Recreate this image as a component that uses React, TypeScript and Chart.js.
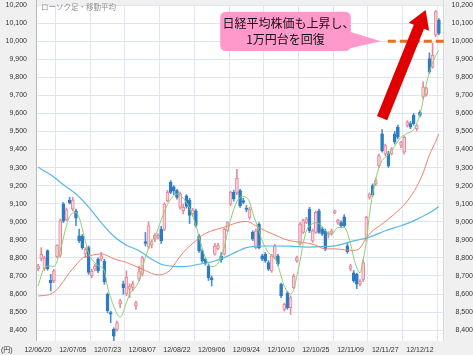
import { useEffect, useRef } from 'react';
import { Chart, registerables } from 'chart.js';

Chart.register(...registerables);

// ---- data ----
const xTickIdx = [0, 11, 22, 33, 44, 55, 66, 77, 88, 99, 110, 121];
const xTickLabels = ['12/06/20', '12/07/05', '12/07/23', '12/08/07', '12/08/22', '12/09/06', '12/09/24', '12/10/10', '12/10/25', '12/11/09', '12/11/27', '12/12/12'];
const yTicks = [8400, 8500, 8600, 8700, 8800, 8900, 9000, 9100, 9200, 9300, 9400, 9500, 9600, 9700, 9800, 9900, 10000, 10100, 10200];
const yMin = 8340;
const yMax = 10200;

const openP = [8740, 8795, 8740, 8840, 8676, 8672, 8805, 8815, 9100, 9010,
  9120, 9070, 9060, 8922, 8920, 8822, 8857, 8702, 8738, 8792,
  8795, 8783, 8598, 8497, 8405, 8404, 8545, 8657, 8600, 8627,
  8636, 8535, 8682, 8710, 8890, 8860, 8870, 8905, 8915, 8959,
  8959, 9117, 9218, 9194, 9172, 9080, 9061, 9144, 9120, 9043,
  9061, 8922, 8839, 8792, 8755, 8690, 8820, 8850, 8811, 8820,
  8950, 9098, 9163, 9160, 9172, 9117, 9075, 9024, 8941, 8857,
  8987, 8811, 8820, 8774, 8728, 8802, 8811, 8654, 8515, 8607,
  8524, 8635, 8783, 8876, 8941, 8996, 9070, 8894, 8941, 9061,
  8959, 8950, 8930, 8935, 9052, 8996, 8996, 9028, 8867, 8737,
  8718, 8709, 8654, 8681, 8904, 9135, 9200, 9209, 9311, 9487,
  9376, 9376, 9376, 9487, 9524, 9422, 9385, 9533, 9543, 9589,
  9515, 9607, 9691, 9705, 9904, 9857, 10033, 10117];

const highP = [8765, 8857, 8810, 8845, 8709, 8737, 8872, 9015, 9107, 9076,
  9135, 9135, 9070, 8959, 8930, 8857, 8866, 8737, 8765, 8801,
  8830, 8792, 8607, 8505, 8413, 8450, 8570, 8672, 8728, 8657,
  8672, 8561, 8755, 8810, 8941, 9000, 8900, 8935, 8935, 8975,
  9105, 9175, 9228, 9200, 9180, 9165, 9098, 9150, 9130, 9075,
  9070, 8930, 8850, 8800, 8765, 8700, 8880, 8880, 8830, 8965,
  9000, 9170, 9175, 9290, 9180, 9130, 9090, 9080, 8950, 8960,
  8995, 8820, 8830, 8785, 8820, 8875, 8820, 8660, 8550, 8615,
  8590, 8710, 8810, 8995, 9015, 9025, 9080, 8960, 9060, 9070,
  8970, 8960, 8945, 8960, 9065, 9015, 9005, 9040, 8880, 8765,
  8730, 8715, 8680, 8790, 9030, 9160, 9210, 9240, 9375, 9510,
  9430, 9390, 9410, 9500, 9535, 9445, 9475, 9560, 9555, 9600,
  9540, 9615, 9775, 9745, 9935, 9990, 10170, 10125];

const lowP = [8728, 8783, 8730, 8732, 8617, 8663, 8800, 8805, 8996, 9005,
  9098, 9060, 8978, 8885, 8848, 8802, 8709, 8690, 8728, 8718,
  8783, 8654, 8496, 8441, 8324, 8394, 8524, 8598, 8590, 8580,
  8617, 8515, 8672, 8700, 8866, 8850, 8855, 8890, 8905, 8880,
  8950, 9110, 9155, 9150, 9125, 9070, 9043, 9075, 8990, 9030,
  8970, 8830, 8775, 8760, 8675, 8644, 8815, 8845, 8775, 8815,
  8945, 9090, 9115, 9150, 9080, 9100, 9055, 9015, 8895, 8850,
  8850, 8785, 8775, 8730, 8720, 8795, 8755, 8580, 8505, 8515,
  8487, 8630, 8775, 8870, 8935, 8990, 8940, 8885, 8935, 8935,
  8925, 8840, 8910, 8925, 9045, 8985, 8970, 8970, 8825, 8728,
  8665, 8630, 8645, 8670, 8895, 9125, 9140, 9200, 9300, 9385,
  9365, 9300, 9370, 9430, 9460, 9410, 9375, 9525, 9515, 9535,
  9505, 9580, 9680, 9695, 9820, 9850, 10025, 10035];

const closeP = [8755, 8820, 8800, 8740, 8663, 8728, 8870, 9005, 9003, 9066,
  9104, 9120, 9020, 8895, 8857, 8848, 8720, 8725, 8755, 8728,
  8812, 8669, 8508, 8488, 8367, 8441, 8562, 8635, 8692, 8644,
  8657, 8553, 8724, 8802, 8880, 8978, 8891, 8925, 8925, 8894,
  9098, 9163, 9163, 9172, 9135, 9154, 9080, 9085, 9035, 9065,
  8980, 8839, 8783, 8770, 8690, 8680, 8867, 8868, 8790, 8959,
  8996, 9163, 9126, 9240, 9089, 9107, 9069, 9070, 8904, 8950,
  8857, 8793, 8783, 8737, 8811, 8867, 8765, 8589, 8543, 8524,
  8580, 8700, 8802, 8987, 9006, 9015, 8950, 8950, 9052, 8941,
  8932, 8848, 8938, 8950, 9061, 9010, 8978, 8978, 8835, 8756,
  8672, 8654, 8672, 8774, 9024, 9154, 9150, 9228, 9367, 9394,
  9422, 9311, 9404, 9441, 9468, 9441, 9468, 9552, 9524, 9543,
  9533, 9589, 9746, 9742, 9830, 9922, 10163, 10043];

// moving averages, sampled along the drawn lines
const maShortIdx = [0, 2, 4, 5, 7, 9, 10, 12, 13, 15, 16, 18, 19, 21, 22, 23, 25, 26, 28, 29, 31, 32, 34, 36, 37, 39, 41, 44, 46, 48, 50, 51, 53, 55, 56, 57, 59, 60, 62, 64, 65, 67, 68, 70, 71, 73, 75, 76, 77, 78, 80, 81, 82, 83, 84, 85, 87, 88, 90, 91, 93, 95, 97, 99, 100, 101, 102, 103, 104, 105, 106, 107, 109, 110, 112, 114, 115, 117, 119, 120, 121, 122, 123, 124, 125, 126, 127];
const maShortVal = [8644, 8745, 8755, 8752, 8840, 8980, 9030, 9052, 9024, 8890, 8825, 8772, 8758, 8728, 8640, 8580, 8490, 8472, 8552, 8600, 8640, 8675, 8802, 8894, 8915, 9010, 9095, 9154, 9130, 9075, 8980, 8915, 8802, 8752, 8755, 8770, 8860, 8940, 9070, 9135, 9140, 9110, 9050, 8950, 8895, 8830, 8795, 8760, 8700, 8645, 8600, 8625, 8700, 8783, 8880, 8950, 8990, 8996, 8975, 8950, 8931, 8968, 8968, 8880, 8800, 8745, 8718, 8790, 8890, 9040, 9150, 9240, 9340, 9355, 9394, 9445, 9468, 9490, 9510, 9545, 9595, 9672, 9760, 9830, 9880, 9920, 9950];

const maMidIdx = [0, 4, 6, 8, 10, 12, 14, 16, 18, 20, 22, 24, 26, 28, 30, 32, 34, 36, 38, 40, 42, 44, 46, 48, 50, 52, 55, 59, 63, 66, 69, 72, 75, 78, 81, 85, 88, 91, 94, 97, 100, 102, 104, 106, 108, 111, 114, 117, 120, 122, 124, 126, 127];
const maMidVal = [8589, 8600, 8625, 8670, 8720, 8760, 8798, 8811, 8818, 8822, 8812, 8795, 8785, 8775, 8760, 8745, 8730, 8714, 8706, 8712, 8735, 8785, 8830, 8865, 8895, 8925, 8950, 8970, 8995, 9002, 8978, 8950, 8928, 8904, 8891, 8883, 8870, 8850, 8850, 8845, 8842, 8855, 8910, 8950, 8975, 9015, 9060, 9115, 9195, 9270, 9370, 9445, 9487];

const maLongIdx = [0, 4, 8, 12, 16, 20, 24, 28, 32, 36, 39, 42, 46, 51, 56, 60, 63, 66, 70, 75, 80, 85, 90, 94, 100, 105, 110, 115, 119, 123, 127];
const maLongVal = [9302, 9260, 9205, 9154, 9082, 8995, 8920, 8870, 8840, 8792, 8765, 8755, 8752, 8765, 8783, 8810, 8835, 8857, 8866, 8866, 8865, 8860, 8862, 8867, 8894, 8915, 8950, 8978, 9005, 9040, 9083];

const titleText = 'ローソク足・移動平均';
const unitText = '(円)';
const calloutLines = ['日経平均株価も上昇し、', '1万円台を回復'];
const targetLevel = 10000;

// ---- styles ----
const UP_FILL = '#f9d2da';
const UP_LINE = '#e5899b';
const DOWN_FILL = '#2c7cc3';
const DOWN_LINE = '#4b90d2';
const GRID = '#dfe6f3';

const decor = {
  id: 'decor',
  beforeDraw(chart: any) {
    const { ctx, chartArea: a, width, height } = chart;
    ctx.save();
    ctx.fillStyle = '#f0f0f0';
    ctx.fillRect(0, 0, width, height);
    ctx.fillStyle = '#ffffff';
    ctx.fillRect(a.left, a.top, a.right - a.left, a.bottom - a.top);
    ctx.restore();
  },
  afterDraw(chart: any) {
    const { ctx, chartArea: a, scales } = chart;
    const xs = scales.x;
    const ys = scales.y;
    const px = (v: number) => xs.getPixelForValue(v);
    const py = (v: number) => ys.getPixelForValue(v);
    ctx.save();
    // borders
    ctx.lineWidth = 1;
    ctx.strokeStyle = '#b9b9b9';
    ctx.beginPath();
    ctx.moveTo(a.left - 0.5, 0);
    ctx.lineTo(a.left - 0.5, a.bottom);
    ctx.stroke();
    ctx.strokeStyle = '#d9d9d9';
    ctx.beginPath();
    ctx.moveTo(a.right + 0.5, 0);
    ctx.lineTo(a.right + 0.5, a.bottom);
    ctx.stroke();

    // title
    ctx.font = '7.5px "Noto Sans CJK JP"';
    ctx.fillStyle = '#8f8f8f';
    ctx.textAlign = 'left';
    ctx.textBaseline = 'middle';
    ctx.fillText(titleText, a.left + 4, a.top + 2);

    // unit
    ctx.font = '7px "Liberation Sans", "Noto Sans CJK JP"';
    ctx.fillStyle = '#333';
    ctx.fillText(unitText, 1, 350);

    // dashed 10,000 line
    const yl = py(targetLevel);
    ctx.strokeStyle = '#ef6a1c';
    ctx.lineWidth = 3;
    ctx.setLineDash([8, 4]);
    ctx.beginPath();
    ctx.moveTo(px(110.8), yl);
    ctx.lineTo(a.right + 3, yl);
    ctx.stroke();
    ctx.setLineDash([]);

    // arrow
    const t = { x: px(109), y: py(9574) };
    const h = { x: px(122.8), y: py(10172) };
    const dx = h.x - t.x;
    const dy = h.y - t.y;
    const len = Math.hypot(dx, dy);
    const ux = dx / len;
    const uy = dy / len;
    const nx = -uy;
    const ny = ux;
    const sw = 5.5;
    const hw = 11;
    const hl = 18;
    const bx = h.x - ux * hl;
    const by = h.y - uy * hl;
    ctx.fillStyle = '#e00000';
    ctx.beginPath();
    ctx.moveTo(t.x + nx * sw, t.y + ny * sw);
    ctx.lineTo(bx + nx * sw, by + ny * sw);
    ctx.lineTo(bx + nx * hw, by + ny * hw);
    ctx.lineTo(h.x, h.y);
    ctx.lineTo(bx - nx * hw, by - ny * hw);
    ctx.lineTo(bx - nx * sw, by - ny * sw);
    ctx.lineTo(t.x - nx * sw, t.y - ny * sw);
    ctx.closePath();
    ctx.fill();

    // callout
    const bl = px(57.7);
    const br = px(99.1);
    const bt = py(10162);
    const bb = py(9946);
    const r = 6;
    ctx.fillStyle = '#ff99cc';
    ctx.beginPath();
    ctx.moveTo(bl + r, bt);
    ctx.lineTo(br - r, bt);
    ctx.quadraticCurveTo(br, bt, br, bt + r);
    ctx.lineTo(br, bb - r);
    ctx.quadraticCurveTo(br, bb, br - r, bb);
    ctx.lineTo(bl + r, bb);
    ctx.quadraticCurveTo(bl, bb, bl, bb - r);
    ctx.lineTo(bl, bt + r);
    ctx.quadraticCurveTo(bl, bt, bl + r, bt);
    ctx.closePath();
    ctx.fill();
    ctx.beginPath();
    ctx.moveTo(br - 1, py(10052));
    ctx.lineTo(px(108.6), py(targetLevel));
    ctx.lineTo(br - 1, py(9960));
    ctx.closePath();
    ctx.fill();

    ctx.fillStyle = '#111';
    ctx.font = '12px "Noto Sans CJK JP"';
    ctx.textAlign = 'center';
    ctx.textBaseline = 'middle';
    const cx = (bl + br) / 2;
    ctx.fillText(calloutLines[0], cx + 3, bt + 11.5);
    ctx.fillText(calloutLines[1], cx, bt + 28);
    ctx.restore();
  },
};

export default function App() {
  const ref = useRef<HTMLCanvasElement | null>(null);

  useEffect(() => {
    const canvas = ref.current;
    if (!canvas) return;
    const n = closeP.length;
    const up = closeP.map((c, i) => c >= openP[i]);
    const wicks = closeP.map((_, i) => ({ x: i, y: [lowP[i], highP[i]] }));
    const bodies = closeP.map((c, i) => ({ x: i, y: [openP[i], c] }));
    const toPts = (idx: number[], val: number[]) => idx.map((x, i) => ({ x, y: val[i] }));
    const tickFont = { family: '"Liberation Sans", Arial, sans-serif', size: 7 };
    const noPad = (s: any) => {
      s.paddingTop = 0;
      s.paddingBottom = 0;
    };

    const chart = new Chart(canvas, {
      type: 'bar',
      data: {
        datasets: [
          {
            type: 'line',
            data: toPts(maShortIdx, maShortVal),
            borderColor: '#8fd06c',
            borderWidth: 1,
            pointRadius: 0,
            cubicInterpolationMode: 'monotone',
            order: 0,
          },
          {
            type: 'line',
            data: toPts(maMidIdx, maMidVal),
            borderColor: '#f2806c',
            borderWidth: 1,
            pointRadius: 0,
            cubicInterpolationMode: 'monotone',
            order: 0,
          },
          {
            type: 'line',
            data: toPts(maLongIdx, maLongVal),
            borderColor: '#55b8ea',
            borderWidth: 1.2,
            pointRadius: 0,
            cubicInterpolationMode: 'monotone',
            order: 0,
          },
          {
            type: 'bar',
            data: bodies,
            backgroundColor: up.map((u) => (u ? UP_FILL : DOWN_FILL)),
            borderColor: up.map((u) => (u ? UP_LINE : DOWN_FILL)),
            borderWidth: 1,
            borderSkipped: false,
            barThickness: 3,
            minBarLength: 1,
            grouped: false,
            order: 1,
          },
          {
            type: 'bar',
            data: wicks,
            backgroundColor: up.map((u) => (u ? UP_LINE : DOWN_LINE)),
            borderWidth: 0,
            barThickness: 1,
            grouped: false,
            order: 2,
          },
        ] as any,
      },
      options: {
        animation: false,
        responsive: false,
        maintainAspectRatio: false,
        devicePixelRatio: 1,
        layout: { padding: { top: 5, left: 0, right: 0, bottom: 0 }, autoPadding: false },
        plugins: { legend: { display: false }, tooltip: { enabled: false } },
        scales: {
          x: {
            type: 'linear',
            min: -0.35,
            max: n + 0.3,
            offset: false,
            grid: { color: GRID, drawTicks: false },
            border: { display: false },
            afterBuildTicks: (s: any) => {
              s.ticks = xTickIdx.map((v) => ({ value: v }));
            },
            afterFit: (s: any) => {
              s.height = 14;
            },
            ticks: {
              autoSkip: false,
              maxRotation: 0,
              padding: 5,
              color: '#333',
              font: tickFont,
              callback: (v: any) => xTickLabels[xTickIdx.indexOf(Number(v))] ?? '',
            },
          },
          y: {
            position: 'left',
            min: yMin,
            max: yMax,
            grid: { color: GRID, drawTicks: false },
            border: { display: false },
            afterBuildTicks: (s: any) => {
              s.ticks = yTicks.map((v) => ({ value: v }));
            },
            afterFit: (s: any) => {
              s.width = 37;
              noPad(s);
            },
            ticks: {
              padding: 10,
              color: '#333',
              font: tickFont,
              callback: (v: any) => Number(v).toLocaleString('en-US'),
            },
          },
          y2: {
            position: 'right',
            min: yMin,
            max: yMax,
            grid: { display: false, drawTicks: false },
            border: { display: false },
            afterBuildTicks: (s: any) => {
              s.ticks = yTicks.map((v) => ({ value: v }));
            },
            afterFit: (s: any) => {
              s.width = 30;
              noPad(s);
            },
            ticks: {
              padding: 6,
              crossAlign: 'far',
              color: '#333',
              font: tickFont,
              callback: (v: any) => Number(v).toLocaleString('en-US'),
            },
          },
        },
      } as any,
      plugins: [decor],
    });
    return () => chart.destroy();
  }, []);

  return (
    <div style={{ position: 'fixed', left: 0, top: 0, width: 473, height: 355 }}>
      <canvas ref={ref} width={473} height={355} style={{ width: 473, height: 355, display: 'block' }} />
    </div>
  );
}
